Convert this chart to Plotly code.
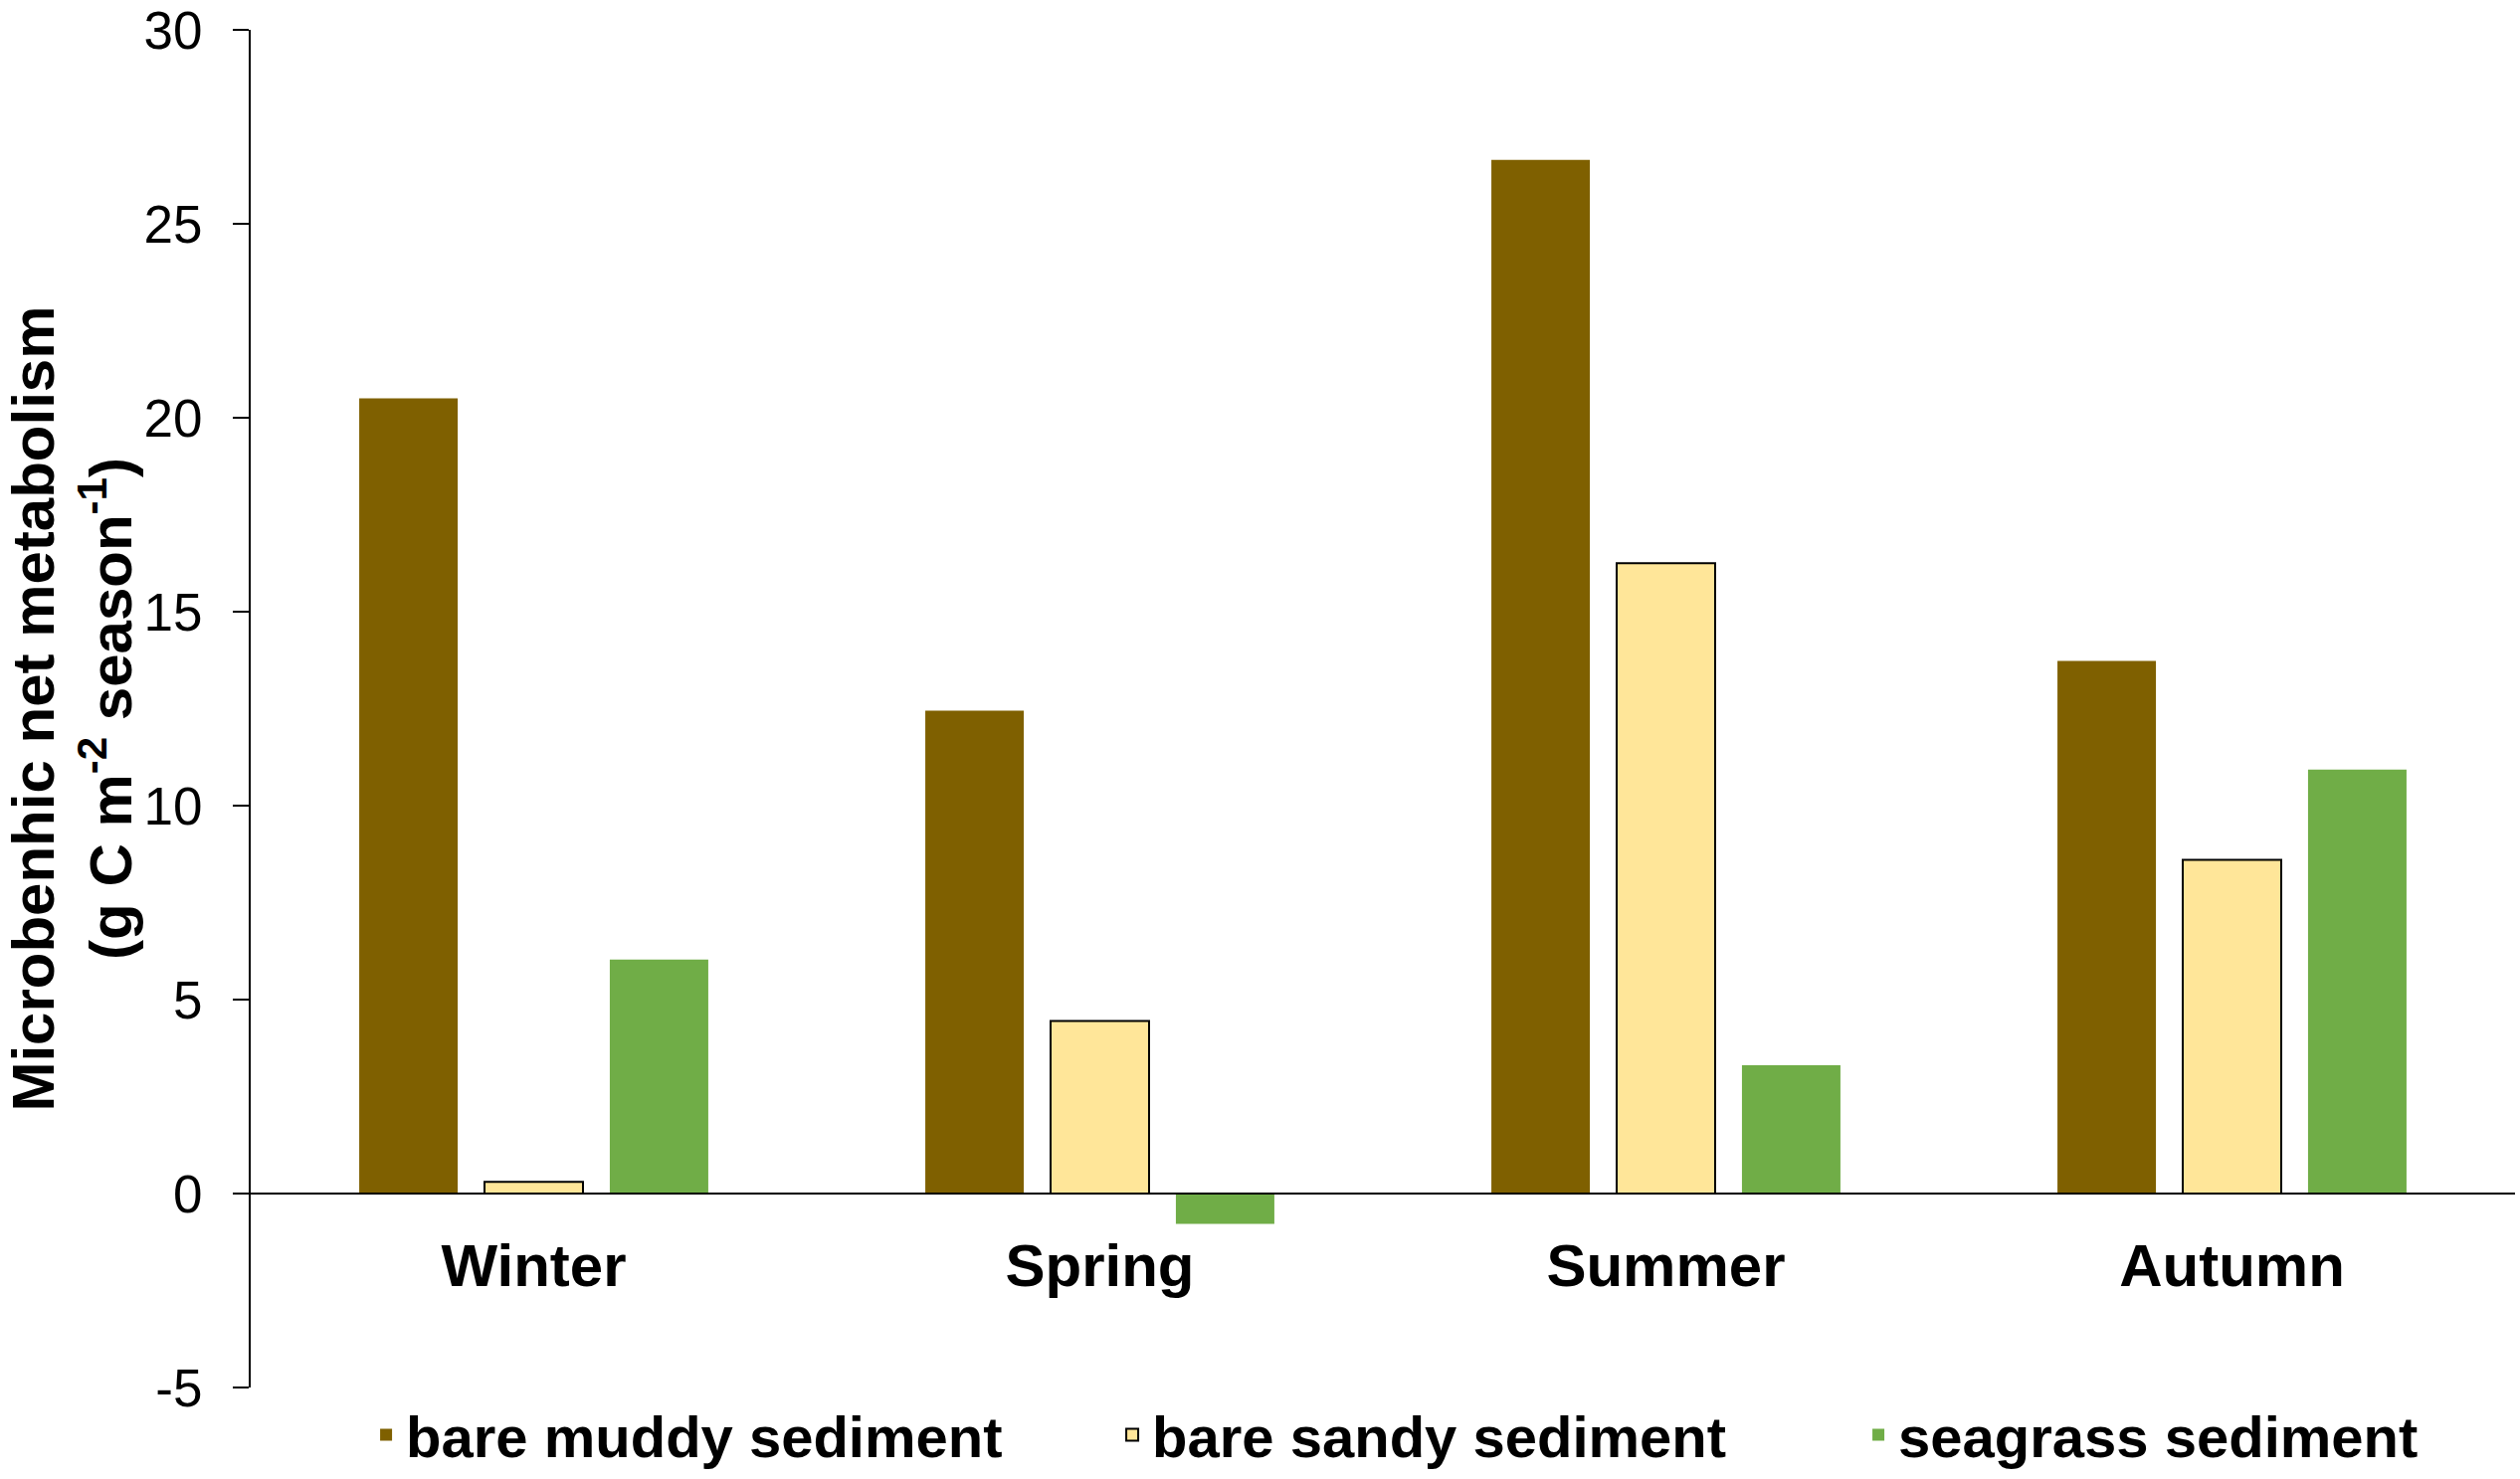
import plotly.graph_objects as go

seasons = ["Winter", "Spring", "Summer", "Autumn"]
muddy = [20.5, 12.45, 26.65, 13.73]
sandy = [0.30, 4.45, 16.25, 8.60]
seagrass = [6.03, -0.78, 3.31, 10.93]
series_names = ["bare muddy sediment", "bare sandy sediment", "seagrass sediment"]
y_tickvals = [-5, 0, 5, 10, 15, 20, 25, 30]
y_ticktext = ["-5", "0", "5", "10", "15", "20", "25", "30"]

FONT = "Liberation Sans, Arial, sans-serif"

fig = go.Figure()
fig.add_trace(go.Bar(x=seasons, y=muddy, name=series_names[0],
                     marker=dict(color="#7F6000", line=dict(width=0))))
fig.add_trace(go.Bar(x=seasons, y=sandy, name=series_names[1],
                     marker=dict(color="#FFE699", line=dict(color="black", width=2))))
fig.add_trace(go.Bar(x=seasons, y=seagrass, name=series_names[2],
                     marker=dict(color="#70AD47", line=dict(width=0))))

fig.update_layout(
    width=2533, height=1487,
    margin=dict(l=252, r=5, t=30, b=92, autoexpand=False),
    paper_bgcolor="white", plot_bgcolor="white",
    barmode="group", bargap=0.336, bargroupgap=0.214,
    font=dict(family=FONT, color="black"),
    showlegend=True,
    legend=dict(orientation="h", x=0.051, xanchor="left", y=-0.035, yanchor="middle",
                font=dict(size=58, weight="bold", family=FONT),
                entrywidth=705, entrywidthmode="pixels",
                bgcolor="rgba(0,0,0,0)"),
)
fig.update_xaxes(
    anchor="free", position=5 / 35,
    showline=True, linecolor="black", linewidth=2,
    ticks="", showgrid=False, zeroline=False,
    tickfont=dict(size=60, weight="bold", family=FONT),
    ticklabelstandoff=20,
)
fig.update_yaxes(
    range=[-5, 30], tickvals=y_tickvals, ticktext=y_ticktext,
    showline=True, linecolor="black", linewidth=2,
    ticks="outside", ticklen=16, tickwidth=2, tickcolor="black",
    showgrid=False, zeroline=False,
    tickfont=dict(size=53, family=FONT),
    ticklabelstandoff=20, ticklabeloverflow="allow",
    title=dict(text="<b>Microbenhic net metabolism<br>(g C m<sup>-2</sup> season<sup>-1</sup>)</b>",
               font=dict(size=60, family=FONT), standoff=30),
)

fig.write_html(
    "out.html",
    config={"displayModeBar": False},
    post_script="document.body.style.margin='0px';document.body.style.overflow='hidden';",
)
